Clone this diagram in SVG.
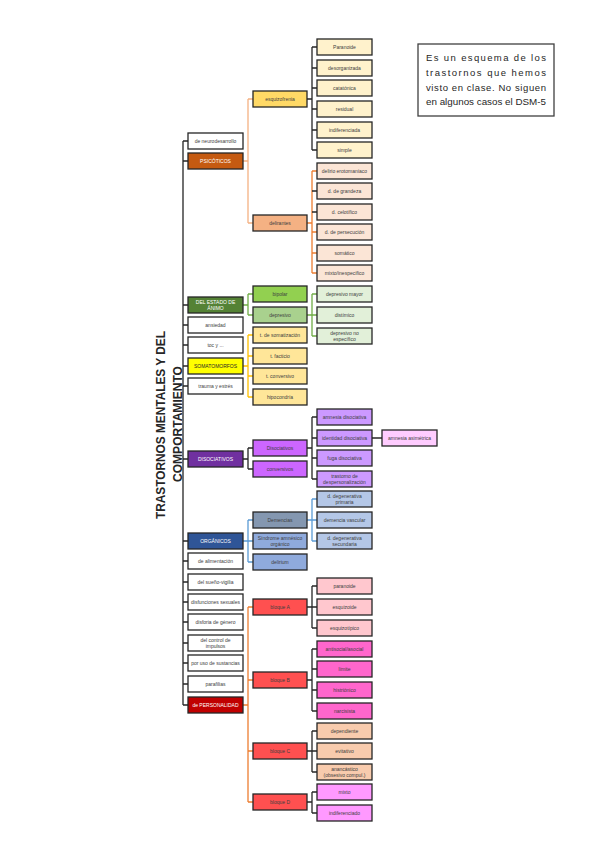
<svg xmlns="http://www.w3.org/2000/svg" width="599" height="848" viewBox="0 0 599 848">
<style>
.b{stroke:#262626;stroke-width:1.3}
.t{font-family:"Liberation Sans",Arial,sans-serif;font-size:5px;fill:#404040;text-anchor:middle}
.w{fill:#ffffff}
.c{fill:none;stroke-width:1.3}
.k{stroke:#262626}
.o{stroke:#ED7D31}
.g{stroke:#70AD47}
.y{stroke:#FFC000}
.bl{stroke:#5B9BD5}
.title{font-family:"Liberation Sans",Arial,sans-serif;font-size:12px;font-weight:bold;fill:#262626;text-anchor:middle}
.note{font-family:"Liberation Sans",Arial,sans-serif;font-size:9.5px;fill:#262626}
</style>
<rect width="599" height="848" fill="#ffffff"/>

<g id="connectors">
<path class="c k" d="M183,141V705M183,141H188M183,161H188M183,305H188M183,325H188M183,345H188M183,366H188M183,386H188M183,459H188M183,541H188M183,561H188M183,582H188M183,602H188M183,622H188M183,643H188M183,663H188M183,684H188M183,705H188"/>
<path class="c o" style="stroke:#F4B183" d="M243,161H248M248,99V223M248,99H253M248,223H253"/>
<path class="c k" d="M307,99H312M312,47V150M312,47H317M312,68H317M312,88H317M312,109H317M312,130H317M312,150H317"/>
<path class="c o" d="M307,223H312M312,171V273M312,171H317M312,232H317M312,253H317M312,273H317"/>
<path class="c k" d="M312,191H317M312,212H317"/>
<path class="c g" d="M243,305H248M248,294V315M248,294H253M248,315H253"/>
<path class="c g" d="M307,315H312M312,294V336M312,294H317M312,315H317M312,336H317"/>
<path class="c y" d="M243,366H248M248,335V397M248,335H253M248,356H253M248,376H253M248,397H253"/>
<path class="c k" d="M243,459H248M248,448V469M248,448H253M248,469H253"/>
<path class="c k" d="M307,448H312M312,417V479M312,417H317M312,438H317M312,458H317M312,479H317M372,438H382"/>
<path class="c bl" d="M243,541H248M248,520V562M248,520H253M248,541H253M248,562H253"/>
<path class="c bl" d="M307,520H312M312,499V541M312,499H317M312,520H317M312,541H317"/>
<path class="c o" d="M243,705H248M248,607V802M248,607H253M248,680H253M248,751H253M248,802H253"/>
<path class="c k" d="M307,607H312M312,586V628M312,586H317M312,607H317M312,628H317"/>
<path class="c k" d="M307,680H312M312,649V711M312,649H317M312,669H317M312,690H317M312,711H317"/>
<path class="c k" d="M307,751H312M312,731V772M312,731H317M312,751H317M312,772H317"/>
<path class="c k" d="M307,802H312M312,792V813M312,792H317M312,813H317"/>
</g>

<g id="title">
<text class="title" transform="translate(164.5,425) rotate(-90)" textLength="188" lengthAdjust="spacingAndGlyphs">TRASTORNOS MENTALES Y DEL</text>
<text class="title" transform="translate(181.5,424) rotate(-90)" textLength="116" lengthAdjust="spacingAndGlyphs">COMPORTAMIENTO</text>
</g>

<g id="note">
<rect x="418" y="44" width="136" height="72" fill="#ffffff" stroke="#404040" stroke-width="1.3"/>
<text class="note" x="426" y="61" textLength="120" lengthAdjust="spacing">Es un esquema de los</text>
<text class="note" x="426" y="76" textLength="120" lengthAdjust="spacing">trastornos que hemos</text>
<text class="note" x="426" y="91" textLength="120" lengthAdjust="spacing">visto en clase. No siguen</text>
<text class="note" x="426" y="105" textLength="120" lengthAdjust="spacingAndGlyphs">en algunos casos el DSM-5</text>
</g>

<!-- Level 1 -->
<g id="n-neuro"><rect class="b" x="188" y="133" width="55" height="16" fill="#ffffff"/><text class="t" x="215.5" y="142.8">de neurodesarrollo</text></g>
<g id="n-psicoticos"><rect class="b" x="188" y="153" width="55" height="16" fill="#C55A11"/><text class="t w" x="215.5" y="162.8">PSICÓTICOS</text></g>
<g id="n-animo"><rect class="b" x="188" y="297" width="55" height="16" fill="#548235"/><text class="t w" x="215.5" y="303.5">DEL ESTADO DE</text><text class="t w" x="215.5" y="309.5">ÁNIMO</text></g>
<g id="n-ansiedad"><rect class="b" x="188" y="317" width="55" height="16" fill="#ffffff"/><text class="t" x="215.5" y="326.8">ansiedad</text></g>
<g id="n-toc"><rect class="b" x="188" y="337" width="55" height="16" fill="#ffffff"/><text class="t" x="215.5" y="346.8">toc y ...</text></g>
<g id="n-somato"><rect class="b" x="188" y="358" width="55" height="16" fill="#FFFF00"/><text class="t" x="215.5" y="367.8" style="fill:#262626">SOMATOMORFOS</text></g>
<g id="n-trauma"><rect class="b" x="188" y="378" width="55" height="16" fill="#ffffff"/><text class="t" x="215.5" y="387.8">trauma y estrés</text></g>
<g id="n-disoc"><rect class="b" x="188" y="451" width="55" height="16" fill="#7030A0"/><text class="t w" x="215.5" y="460.8">DISOCIATIVOS</text></g>
<g id="n-organicos"><rect class="b" x="188" y="533" width="55" height="16" fill="#2F5597"/><text class="t w" x="215.5" y="542.8">ORGÁNICOS</text></g>
<g id="n-alim"><rect class="b" x="188" y="553" width="55" height="16" fill="#ffffff"/><text class="t" x="215.5" y="562.8">de alimentación</text></g>
<g id="n-sueno"><rect class="b" x="188" y="574" width="55" height="16" fill="#ffffff"/><text class="t" x="215.5" y="583.8">del sueño-vigilia</text></g>
<g id="n-sexual"><rect class="b" x="188" y="594" width="55" height="16" fill="#ffffff"/><text class="t" x="215.5" y="603.8">disfunciones sexuales</text></g>
<g id="n-genero"><rect class="b" x="188" y="614" width="55" height="16" fill="#ffffff"/><text class="t" x="215.5" y="623.8">disforia de género</text></g>
<g id="n-impulsos"><rect class="b" x="188" y="635" width="55" height="16" fill="#ffffff"/><text class="t" x="215.5" y="641.5">del control de</text><text class="t" x="215.5" y="647.5">impulsos</text></g>
<g id="n-sustancias"><rect class="b" x="188" y="655" width="55" height="16" fill="#ffffff"/><text class="t" x="215.5" y="664.8">por uso de sustancias</text></g>
<g id="n-parafilias"><rect class="b" x="188" y="676" width="55" height="16" fill="#ffffff"/><text class="t" x="215.5" y="685.8">parafilias</text></g>
<g id="n-personalidad"><rect class="b" x="188" y="697" width="55" height="16" fill="#C00000"/><text class="t w" x="215.5" y="706.8">de PERSONALIDAD</text></g>

<!-- Level 2 -->
<g id="n-esquizofrenia"><rect class="b" x="253" y="91" width="54" height="16" fill="#FFD966"/><text class="t" x="280" y="100.8">esquizofrenia</text></g>
<g id="n-delirantes"><rect class="b" x="253" y="215" width="54" height="16" fill="#F4B183"/><text class="t" x="280" y="224.8">delirantes</text></g>
<g id="n-bipolar"><rect class="b" x="253" y="286" width="54" height="16" fill="#92D050"/><text class="t" x="280" y="295.8">bipolar</text></g>
<g id="n-depresivo"><rect class="b" x="253" y="307" width="54" height="16" fill="#A9D18E"/><text class="t" x="280" y="316.8">depresivo</text></g>
<g id="n-somatizacion"><rect class="b" x="253" y="327" width="54" height="16" fill="#FFE699"/><text class="t" x="280" y="336.8">t. de somatización</text></g>
<g id="n-facticio"><rect class="b" x="253" y="348" width="54" height="16" fill="#FFE699"/><text class="t" x="280" y="357.8">t. facticio</text></g>
<g id="n-conversivo"><rect class="b" x="253" y="368" width="54" height="16" fill="#FFE699"/><text class="t" x="280" y="377.8">t. conversivo</text></g>
<g id="n-hipocondria"><rect class="b" x="253" y="389" width="54" height="16" fill="#FFE699"/><text class="t" x="280" y="398.8">hipocondría</text></g>
<g id="n-disociativos"><rect class="b" x="253" y="440" width="54" height="16" fill="#CC66FF"/><text class="t" x="280" y="449.8">Disociativos</text></g>
<g id="n-conversivos"><rect class="b" x="253" y="461" width="54" height="16" fill="#CC66FF"/><text class="t" x="280" y="470.8">conversivos</text></g>
<g id="n-demencias"><rect class="b" x="253" y="512" width="54" height="16" fill="#8497B0"/><text class="t" x="280" y="521.8">Demencias</text></g>
<g id="n-amnesico"><rect class="b" x="253" y="533" width="54" height="16" fill="#8FAADC"/><text class="t" x="280" y="539.5">Síndrome amnésico</text><text class="t" x="280" y="545.5">orgánico</text></g>
<g id="n-delirium"><rect class="b" x="253" y="554" width="54" height="16" fill="#8FAADC"/><text class="t" x="280" y="563.8">delirium</text></g>
<g id="n-bloqueA"><rect class="b" x="253" y="599" width="54" height="16" fill="#FF5050"/><text class="t" x="280" y="608.8">bloque A</text></g>
<g id="n-bloqueB"><rect class="b" x="253" y="672" width="54" height="16" fill="#FF5050"/><text class="t" x="280" y="681.8">bloque B</text></g>
<g id="n-bloqueC"><rect class="b" x="253" y="743" width="54" height="16" fill="#FF5050"/><text class="t" x="280" y="752.8">bloque C</text></g>
<g id="n-bloqueD"><rect class="b" x="253" y="794" width="54" height="16" fill="#FF5050"/><text class="t" x="280" y="803.8">bloque D</text></g>

<!-- Level 3 -->
<g id="n-paranoide"><rect class="b" x="317" y="39" width="55" height="16" fill="#FFF2CC"/><text class="t" x="344.5" y="48.8">Paranoide</text></g>
<g id="n-desorganizada"><rect class="b" x="317" y="60" width="55" height="16" fill="#FFF2CC"/><text class="t" x="344.5" y="69.8">desorganizada</text></g>
<g id="n-catatonica"><rect class="b" x="317" y="80" width="55" height="16" fill="#FFF2CC"/><text class="t" x="344.5" y="89.8">catatónica</text></g>
<g id="n-residual"><rect class="b" x="317" y="101" width="55" height="16" fill="#FFF2CC"/><text class="t" x="344.5" y="110.8">residual</text></g>
<g id="n-indiferenciada"><rect class="b" x="317" y="122" width="55" height="16" fill="#FFF2CC"/><text class="t" x="344.5" y="131.8">indiferenciada</text></g>
<g id="n-simple"><rect class="b" x="317" y="142" width="55" height="16" fill="#FFF2CC"/><text class="t" x="344.5" y="151.8">simple</text></g>

<g id="n-erotomaniaco"><rect class="b" x="317" y="163" width="55" height="16" fill="#FBE5D6"/><text class="t" x="344.5" y="172.8">delirio erotomaníaco</text></g>
<g id="n-grandeza"><rect class="b" x="317" y="183" width="55" height="16" fill="#FBE5D6"/><text class="t" x="344.5" y="192.8">d. de grandeza</text></g>
<g id="n-celotifico"><rect class="b" x="317" y="204" width="55" height="16" fill="#FBE5D6"/><text class="t" x="344.5" y="213.8">d. celotífico</text></g>
<g id="n-persecucion"><rect class="b" x="317" y="224" width="55" height="16" fill="#FBE5D6"/><text class="t" x="344.5" y="233.8">d. de persecución</text></g>
<g id="n-somatico"><rect class="b" x="317" y="245" width="55" height="16" fill="#FBE5D6"/><text class="t" x="344.5" y="254.8">somático</text></g>
<g id="n-mixto1"><rect class="b" x="317" y="265" width="55" height="16" fill="#FBE5D6"/><text class="t" x="344.5" y="274.8">mixto/inespecífico</text></g>

<g id="n-mayor"><rect class="b" x="317" y="286" width="55" height="16" fill="#E2F0D9"/><text class="t" x="344.5" y="295.8">depresivo mayor</text></g>
<g id="n-distimico"><rect class="b" x="317" y="307" width="55" height="16" fill="#E2F0D9"/><text class="t" x="344.5" y="316.8">distímico</text></g>
<g id="n-noespecifico"><rect class="b" x="317" y="328" width="55" height="16" fill="#E2F0D9"/><text class="t" x="344.5" y="334.5">depresivo no</text><text class="t" x="344.5" y="340.5">específico</text></g>

<g id="n-amnesia"><rect class="b" x="317" y="409" width="55" height="16" fill="#CC99FF"/><text class="t" x="344.5" y="418.8">amnesia disociativa</text></g>
<g id="n-identidad"><rect class="b" x="317" y="430" width="55" height="16" fill="#CC99FF"/><text class="t" x="344.5" y="439.8">identidad disociativa</text></g>
<g id="n-fuga"><rect class="b" x="317" y="450" width="55" height="16" fill="#CC99FF"/><text class="t" x="344.5" y="459.8">fuga disociativa</text></g>
<g id="n-despers"><rect class="b" x="317" y="471" width="55" height="16" fill="#CC99FF"/><text class="t" x="344.5" y="477.5">trastorno de</text><text class="t" x="344.5" y="483.5">despersonalización</text></g>
<g id="n-asimetrica"><rect class="b" x="382" y="430" width="55" height="16" fill="#FFCCFF"/><text class="t" x="409.5" y="439.8">amnesia asimétrica</text></g>

<g id="n-primaria"><rect class="b" x="317" y="491" width="55" height="16" fill="#B4C7E7"/><text class="t" x="344.5" y="497.5">d. degenerativa</text><text class="t" x="344.5" y="503.5">primaria</text></g>
<g id="n-vascular"><rect class="b" x="317" y="512" width="55" height="16" fill="#B4C7E7"/><text class="t" x="344.5" y="521.8">demencia vascular</text></g>
<g id="n-secundaria"><rect class="b" x="317" y="533" width="55" height="16" fill="#B4C7E7"/><text class="t" x="344.5" y="539.5">d. degenerativa</text><text class="t" x="344.5" y="545.5">secundaria</text></g>

<g id="n-paranoide2"><rect class="b" x="317" y="578" width="55" height="16" fill="#FFC7CE"/><text class="t" x="344.5" y="587.8">paranoide</text></g>
<g id="n-esquizoide"><rect class="b" x="317" y="599" width="55" height="16" fill="#FFC7CE"/><text class="t" x="344.5" y="608.8">esquizoide</text></g>
<g id="n-esquizotipico"><rect class="b" x="317" y="620" width="55" height="16" fill="#FFC7CE"/><text class="t" x="344.5" y="629.8">esquizotípico</text></g>

<g id="n-antisocial"><rect class="b" x="317" y="641" width="55" height="16" fill="#FF66CC"/><text class="t" x="344.5" y="650.8">antisocial/asocial</text></g>
<g id="n-limite"><rect class="b" x="317" y="661" width="55" height="16" fill="#FF66CC"/><text class="t" x="344.5" y="670.8">límite</text></g>
<g id="n-histrionico"><rect class="b" x="317" y="682" width="55" height="16" fill="#FF66CC"/><text class="t" x="344.5" y="691.8">histriónico</text></g>
<g id="n-narcisista"><rect class="b" x="317" y="703" width="55" height="16" fill="#FF66CC"/><text class="t" x="344.5" y="712.8">narcisista</text></g>

<g id="n-dependiente"><rect class="b" x="317" y="723" width="55" height="16" fill="#F8CBAD"/><text class="t" x="344.5" y="732.8">dependiente</text></g>
<g id="n-evitativo"><rect class="b" x="317" y="743" width="55" height="16" fill="#F8CBAD"/><text class="t" x="344.5" y="752.8">evitativo</text></g>
<g id="n-anancastico"><rect class="b" x="317" y="764" width="55" height="16" fill="#F8CBAD"/><text class="t" x="344.5" y="770.5">anancástico</text><text class="t" x="344.5" y="776.5">(obsesivo compul.)</text></g>

<g id="n-mixto2"><rect class="b" x="317" y="784" width="55" height="16" fill="#FF99FF"/><text class="t" x="344.5" y="793.8">mixto</text></g>
<g id="n-indiferenciado"><rect class="b" x="317" y="805" width="55" height="16" fill="#FF99FF"/><text class="t" x="344.5" y="814.8">indiferenciado</text></g>
</svg>
